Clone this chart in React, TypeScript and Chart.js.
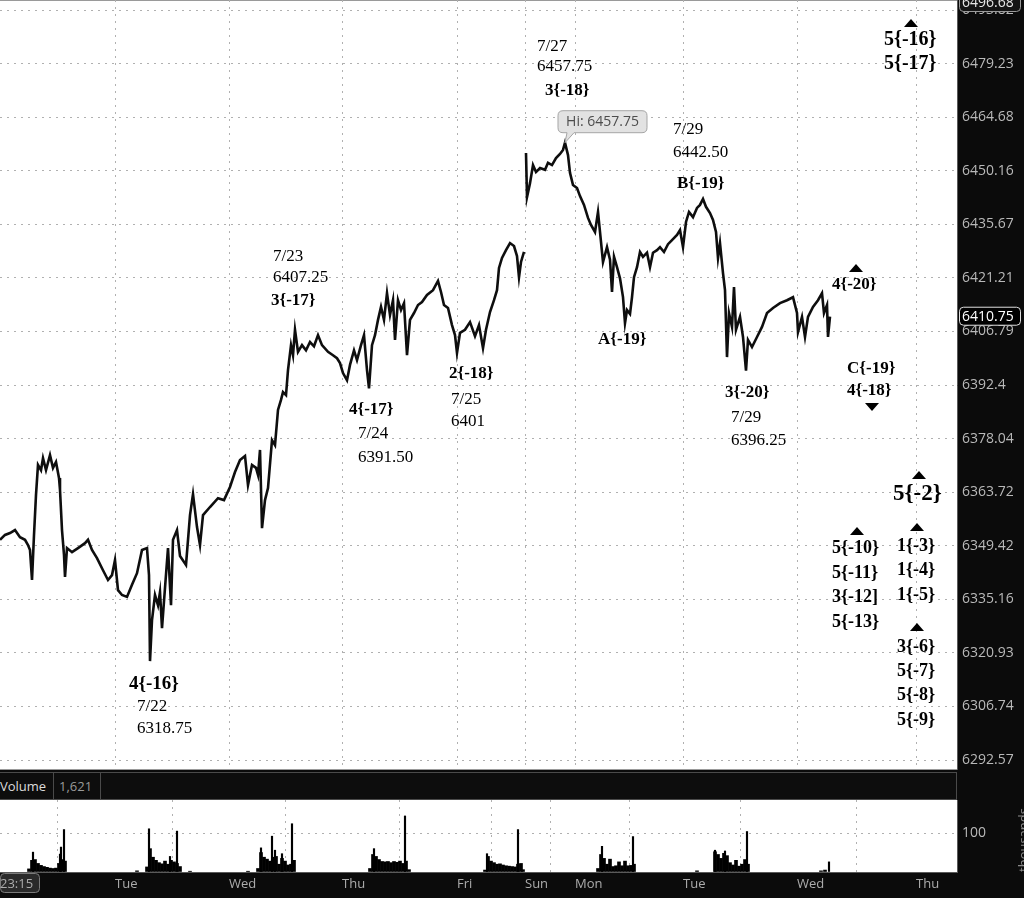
import React, { useEffect, useRef } from 'react';
import { Chart, registerables } from 'chart.js';

Chart.register(...registerables);

// ---------- DATA ----------
// x axis: bar index (intraday bars), day boundaries
const BAR_SPAN = 957;
const DAY_TICKS = [0, 115, 229, 342, 457, 525, 575, 683, 797, 916];
const DAY_LABELS = ['23:15', 'Tue', 'Wed', 'Thu', 'Fri', 'Sun', 'Mon', 'Tue', 'Wed', 'Thu'];

// price axis (log scale)
const PRICE_MIN = 6289.93;
const PRICE_MAX = 6496.55;
const PRICE_TICKS = [6292.57, 6306.74, 6320.93, 6335.16, 6349.42, 6363.72, 6378.04, 6392.4, 6406.79, 6421.21, 6435.67, 6450.16, 6464.68, 6479.23, 6493.82];
const PRICE_TICK_LABELS = ['6292.57', '6306.74', '6320.93', '6335.16', '6349.42', '6363.72', '6378.04', '6392.4', '6406.79', '6421.21', '6435.67', '6450.16', '6464.68', '6479.23', '6493.82'];

const PRICE_X = [
  0, 5, 10, 15, 20, 25, 28, 30, 32, 34, 36, 38, 41, 43, 46, 50, 53, 56, 59, 60, 62, 64, 65, 67, 72, 78, 85, 88, 92, 97,
  103, 108, 112, 115, 118, 122, 127, 132, 137, 142, 147, 149, 150, 152, 155, 158, 160, 162, 165, 168, 171, 173, 177, 180, 186, 190, 193, 197, 200, 203,
  210, 218, 224, 230, 235, 240, 245, 248, 252, 256, 258, 260, 262, 265, 268, 272, 275, 278, 281, 283, 286, 288, 291, 293, 295, 298, 302, 306, 310, 314,
  318, 322, 328, 333, 337, 340, 343, 347, 350, 354, 357, 361, 364, 367, 369, 372, 375, 378, 381, 384, 387, 390, 393, 395, 398, 401, 404, 407, 410, 414,
  418, 422, 427, 433, 438, 441, 444, 448, 452, 455, 457, 460, 465, 470, 475, 479, 483, 486, 490, 494, 497, 499, 502, 506, 510, 514, 517, 519, 521, 524,
  525,
  526, 527, 530, 533, 536, 540, 545, 548, 552, 556, 560, 563, 565, 568, 570, 573, 577, 580, 584, 588, 591, 595, 598, 600, 603, 607, 610, 612, 614, 617,
  620, 623, 625, 627, 630, 632, 634, 637, 640, 643, 647, 650, 653, 657, 660, 664, 668, 672, 677, 680, 683, 686, 689, 693, 697, 700, 703, 706, 710, 713,
  716, 718, 720, 723, 725, 727, 729, 732, 734, 736, 740, 743, 746, 748, 752, 757, 762, 767, 773, 780, 787, 793, 797, 798, 802, 805, 808, 813, 818, 822,
  824, 827, 828, 830
];
const PRICE_Y = [
  6351.0, 6352.3, 6352.8, 6353.6, 6351.7, 6351.0, 6349.6, 6348.3, 6340.3, 6352.3, 6363.0, 6371.0, 6369.6, 6372.8, 6369.6, 6373.6, 6370.2, 6371.8, 6367.5, 6364.3, 6353.6, 6347.0, 6341.1, 6348.8, 6347.7, 6348.8, 6350.1, 6351.0, 6348.3, 6346.1,
  6342.9, 6340.3, 6341.6, 6345.6, 6337.6, 6336.3, 6335.8, 6339.0, 6342.1, 6348.3, 6348.8, 6341.6, 6318.75, 6329.6, 6336.3, 6333.6, 6337.1, 6327.5, 6338.2, 6348.8, 6333.6, 6351.0, 6353.6, 6346.7, 6344.3, 6357.6, 6363.2, 6354.4, 6349.6, 6357.6,
  6359.75, 6362.1, 6361.6, 6365.1, 6369.1, 6372.3, 6373.4, 6365.6, 6371.0, 6370.2, 6368.3, 6375.0, 6354.1, 6361.6, 6364.8, 6377.65, 6376.3, 6385.7, 6388.4, 6390.5, 6389.7, 6396.4, 6403.1, 6400.4, 6407.25, 6401.3, 6403.1, 6401.7, 6403.95, 6402.8,
  6405.8, 6403.1, 6401.3, 6400.4, 6399.6, 6398.3, 6395.6, 6393.7, 6397.8, 6401.7, 6399.1, 6403.1, 6405.8, 6396.4, 6391.5, 6403.1, 6405.8, 6409.9, 6413.4, 6409.9, 6417.1, 6411.2, 6415.2, 6404.5, 6415.2, 6412.55, 6414.4, 6400.4, 6409.9, 6411.75,
  6413.9, 6414.7, 6416.6, 6417.9, 6420.4, 6417.4, 6413.9, 6413.1, 6408.5, 6405.8, 6401.0, 6406.4, 6407.25, 6409.3, 6405.5, 6408.5, 6402.3, 6407.25, 6412.0, 6415.2, 6417.9, 6423.9, 6426.6, 6428.7, 6430.6, 6429.8, 6427.1, 6421.4, 6425.5, 6428.2,
  null,
  6454.95, 6443.0, 6446.8, 6451.7, 6449.8, 6450.9, 6450.4, 6452.3, 6451.7, 6453.6, 6454.7, 6455.8, 6457.75, 6454.4, 6449.6, 6446.3, 6445.5, 6443.3, 6440.9, 6437.4, 6435.5, 6433.6, 6439.0, 6433.6, 6425.5, 6429.5, 6426.1, 6417.4, 6426.9, 6424.1,
  6421.1, 6416.05, 6409.05, 6412.55, 6411.5, 6416.0, 6421.4, 6424.1, 6428.2, 6426.9, 6428.0, 6424.1, 6428.0, 6428.7, 6429.5, 6428.2, 6430.3, 6431.4, 6432.8, 6434.1, 6429.5, 6436.3, 6439.0, 6437.6, 6440.1, 6440.9, 6442.5, 6440.4, 6438.7, 6436.85,
  6433.6, 6426.6, 6430.6, 6422.5, 6417.9, 6399.9, 6411.75, 6408.0, 6418.75, 6407.25, 6410.7, 6405.3, 6396.25, 6404.5, 6402.6, 6405.3, 6408.0, 6411.75, 6413.1, 6414.4, 6415.2, 6416.0, 6411.75, 6406.6, 6410.7, 6405.3, 6410.7, 6413.4, 6415.2, 6417.1,
  6411.75, 6413.9, 6405.3, 6410.75
];

// volume (thousands)
const VOL_MAX = 185;
const VOL_TICKS = [0, 100];
const VOL_X = [
  29, 32, 35, 38, 41, 44, 47, 50, 53, 56, 59, 62, 65,
  137, 147, 150, 153, 156, 159, 162, 165, 168, 171, 174, 177, 180, 190,
  248, 258, 261, 264, 267, 270, 273, 276, 279, 282, 285, 288, 291, 294,
  370, 373, 376, 379, 382, 385, 388, 391, 394, 397, 400, 403, 406, 409,
  485, 488, 491, 494, 497, 500, 503, 506, 509, 512, 515, 518, 521, 523,
  598, 601, 604, 607, 610, 613, 616, 619, 622, 625, 628, 631, 634,
  697, 715, 718, 721, 724, 727, 730, 733, 736, 739, 742, 745, 748,
  821, 825
];
const VOL_Y = [
  8, 30, 32, 22, 17, 14, 12, 10, 9, 10, 22, 32, 28,
  3, 13, 60, 38, 30, 24, 21, 28, 20, 30, 26, 22, 14, 2,
  2, 9, 50, 38, 33, 28, 38, 40, 20, 35, 28, 18, 20, 30,
  9, 45, 40, 32, 27, 26, 27, 24, 27, 25, 28, 22, 28, 6,
  5, 40, 28, 24, 20, 21, 18, 16, 15, 14, 13, 20, 22, 6,
  9, 45, 35, 20, 33, 14, 16, 26, 16, 28, 16, 17, 20,
  3, 52, 45, 35, 48, 42, 24, 18, 30, 15, 20, 32, 20,
  3, 5
];
const VOL_SPIKE_X = [33, 60, 61, 64, 149, 170, 177, 261, 272, 275, 282, 292, 374, 405, 487, 518, 602, 633, 715, 725, 747, 829];
const VOL_SPIKE_Y = [51, 46, 64, 109, 111, 40, 105, 62, 92, 56, 47, 124, 60, 144, 47, 109, 66, 91, 56, 54, 104, 26];
const VOLUME_READOUT = '1,621';

const LAST_PRICE = 6410.75;
const TOP_PRICE = 6496.68;
const HIGH_X = 565;
const HIGH_PRICE = 6457.75;

// wave-count annotations (bar index, price)
const ANNOTATIONS = [
  { t: '7/27', x: 537, y: 6484.0, b: false, s: 17 },
  { t: '6457.75', x: 537, y: 6478.3, b: false, s: 17 },
  { t: '3{-18}', x: 545, y: 6471.8, b: true, s: 17 },
  { t: '7/29', x: 673, y: 6461.2, b: false, s: 17 },
  { t: '6442.50', x: 673, y: 6455.2, b: false, s: 17 },
  { t: 'B{-19}', x: 677, y: 6446.6, b: true, s: 17 },
  { t: '7/23', x: 273, y: 6427.1, b: false, s: 17 },
  { t: '6407.25', x: 273, y: 6421.4, b: false, s: 17 },
  { t: '3{-17}', x: 271, y: 6415.2, b: true, s: 17 },
  { t: '4{-17}', x: 349, y: 6385.7, b: true, s: 17 },
  { t: '7/24', x: 358, y: 6379.3, b: false, s: 17 },
  { t: '6391.50', x: 358, y: 6373.1, b: false, s: 17 },
  { t: '2{-18}', x: 449, y: 6395.35, b: true, s: 17 },
  { t: '7/25', x: 451, y: 6388.4, b: false, s: 17 },
  { t: '6401', x: 451, y: 6382.7, b: false, s: 17 },
  { t: '4{-16}', x: 129, y: 6312.7, b: true, s: 19 },
  { t: '7/22', x: 137, y: 6306.6, b: false, s: 17 },
  { t: '6318.75', x: 137, y: 6301.0, b: false, s: 17 },
  { t: 'A{-19}', x: 598, y: 6404.5, b: true, s: 17 },
  { t: '3{-20}', x: 725, y: 6390.25, b: true, s: 17 },
  { t: '7/29', x: 731, y: 6383.55, b: false, s: 17 },
  { t: '6396.25', x: 731, y: 6377.65, b: false, s: 17 },
  { t: '4{-20}', x: 832, y: 6419.3, b: true, s: 17 },
  { t: 'C{-19}', x: 847, y: 6396.7, b: true, s: 17 },
  { t: '4{-18}', x: 847, y: 6390.8, b: true, s: 17 },
  { t: '5{-16}', x: 884, y: 6485.65, b: true, s: 20 },
  { t: '5{-17}', x: 884, y: 6479.1, b: true, s: 20 },
  { t: '5{-2}', x: 893, y: 6363.2, b: true, s: 23 },
  { t: '5{-10}', x: 832, y: 6348.8, b: true, s: 18 },
  { t: '5{-11}', x: 832, y: 6342.15, b: true, s: 18 },
  { t: '3{-12]', x: 832, y: 6335.75, b: true, s: 18 },
  { t: '5{-13}', x: 832, y: 6329.1, b: true, s: 18 },
  { t: '1{-3}', x: 897, y: 6349.35, b: true, s: 18 },
  { t: '1{-4}', x: 897, y: 6342.95, b: true, s: 18 },
  { t: '1{-5}', x: 897, y: 6336.3, b: true, s: 18 },
  { t: '3{-6}', x: 897, y: 6322.5, b: true, s: 18 },
  { t: '5{-7}', x: 897, y: 6316.1, b: true, s: 18 },
  { t: '5{-8}', x: 897, y: 6309.75, b: true, s: 18 },
  { t: '5{-9}', x: 897, y: 6303.15, b: true, s: 18 },
];
const MARKERS = [
  { x: 911, y: 6490.3, up: true },
  { x: 856, y: 6423.9, up: true },
  { x: 872, y: 6386.5, up: false },
  { x: 919, y: 6368.3, up: true },
  { x: 857, y: 6353.35, up: true },
  { x: 917, y: 6354.4, up: true },
  { x: 917, y: 6327.8, up: true },
];

// ---------- STYLE ----------
const GRID = '#b0b0b0';
const DASH = [2, 5];
const AXIS_TEXT = '#b9b9b9';
const SANS = '"Open Sans", "Noto Sans", sans-serif';
const SERIF = '"Liberation Serif", "Times New Roman", serif';

function rr(ctx: CanvasRenderingContext2D, x: number, y: number, w: number, h: number, r: number) {
  ctx.beginPath();
  ctx.moveTo(x + r, y);
  ctx.lineTo(x + w - r, y);
  ctx.quadraticCurveTo(x + w, y, x + w, y + r);
  ctx.lineTo(x + w, y + h - r);
  ctx.quadraticCurveTo(x + w, y + h, x + w - r, y + h);
  ctx.lineTo(x + r, y + h);
  ctx.quadraticCurveTo(x, y + h, x, y + h - r);
  ctx.lineTo(x, y + r);
  ctx.quadraticCurveTo(x, y, x + r, y);
  ctx.closePath();
}

const pricePlugin = {
  id: 'pricePlugin',
  beforeDraw(chart: any) {
    const { ctx, chartArea: a } = chart;
    ctx.save();
    ctx.fillStyle = '#ffffff';
    ctx.fillRect(a.left, a.top, a.right - a.left, a.bottom - a.top);
    ctx.fillStyle = '#9a9a9a';
    ctx.fillRect(a.left, a.top, a.right - a.left, 1);
    ctx.restore();
  },
  afterDatasetsDraw(chart: any) {
    const { ctx } = chart;
    const x = chart.scales.x;
    const y = chart.scales.y;
    ctx.save();
    ctx.fillStyle = '#000';
    ctx.textAlign = 'left';
    ctx.textBaseline = 'middle';
    for (const a of ANNOTATIONS) {
      ctx.font = `${a.b ? 'bold ' : ''}${a.s}px ${SERIF}`;
      ctx.fillText(a.t, x.getPixelForValue(a.x), y.getPixelForValue(a.y));
    }
    for (const m of MARKERS) {
      const px = x.getPixelForValue(m.x);
      const py = y.getPixelForValue(m.y);
      ctx.beginPath();
      if (m.up) {
        ctx.moveTo(px - 7, py + 4); ctx.lineTo(px + 7, py + 4); ctx.lineTo(px, py - 4);
      } else {
        ctx.moveTo(px - 7, py - 4); ctx.lineTo(px + 7, py - 4); ctx.lineTo(px, py + 4);
      }
      ctx.closePath();
      ctx.fill();
    }
    // high bubble
    const hx = x.getPixelForValue(HIGH_X);
    const hy = y.getPixelForValue(HIGH_PRICE);
    const L = hx - 7, R = hx + 82, T = hy - 32, B = hy - 10, r = 5;
    ctx.beginPath();
    ctx.moveTo(L + r, T);
    ctx.lineTo(R - r, T);
    ctx.quadraticCurveTo(R, T, R, T + r);
    ctx.lineTo(R, B - r);
    ctx.quadraticCurveTo(R, B, R - r, B);
    ctx.lineTo(hx + 9, B);
    ctx.lineTo(hx, hy);
    ctx.lineTo(hx + 2, B);
    ctx.lineTo(L + r, B);
    ctx.quadraticCurveTo(L, B, L, B - r);
    ctx.lineTo(L, T + r);
    ctx.quadraticCurveTo(L, T, L + r, T);
    ctx.closePath();
    ctx.fillStyle = '#e2e2e2';
    ctx.fill();
    ctx.strokeStyle = '#a5a5a5';
    ctx.lineWidth = 1;
    ctx.stroke();
    ctx.fillStyle = '#4d4d4d';
    ctx.font = `14px ${SANS}`;
    ctx.textAlign = 'center';
    ctx.fillText('Hi: ' + HIGH_PRICE.toFixed(2), hx + 37.5, hy - 21);
    ctx.restore();
  },
  afterDraw(chart: any) {
    const { ctx } = chart;
    const y = chart.scales.y;
    const left = chart.chartArea.right + 2;
    ctx.save();
    ctx.font = `14px ${SANS}`;
    ctx.textAlign = 'left';
    ctx.textBaseline = 'middle';
    // top price box
    const ty = Math.max(y.getPixelForValue(TOP_PRICE), 0) + 3;
    rr(ctx, left + 0.5, ty - 9.5, 61, 18, 4);
    ctx.fillStyle = '#141414';
    ctx.fill();
    ctx.strokeStyle = '#9a9a9a';
    ctx.stroke();
    ctx.fillStyle = '#e6e6e6';
    ctx.fillText(TOP_PRICE.toFixed(2), left + 3, ty);
    // last price box
    const ly = y.getPixelForValue(LAST_PRICE);
    rr(ctx, left + 0.5, ly - 9.5, 61, 18, 4);
    ctx.fillStyle = '#000';
    ctx.fill();
    ctx.strokeStyle = '#e0e0e0';
    ctx.stroke();
    ctx.fillStyle = '#ffffff';
    ctx.fillText(LAST_PRICE.toFixed(2), left + 3, ly);
    ctx.restore();
  },
};

const volPlugin = {
  id: 'volPlugin',
  beforeDraw(chart: any) {
    const { ctx, chartArea: a } = chart;
    ctx.save();
    ctx.fillStyle = '#ffffff';
    ctx.fillRect(a.left, a.top, a.right - a.left, a.bottom - a.top);
    rr(ctx, 0.5, a.bottom + 1.5, 39, 19, 4);
    ctx.fillStyle = '#2a2a2a';
    ctx.fill();
    ctx.strokeStyle = '#7a7a7a';
    ctx.lineWidth = 1;
    ctx.stroke();
    ctx.restore();
  },
  afterDraw(chart: any) {
    const { ctx, chartArea: a } = chart;
    ctx.save();
    ctx.translate(1028, (a.top + a.bottom) / 2 + 4);
    ctx.rotate(-Math.PI / 2);
    ctx.font = `13px ${SANS}`;
    ctx.fillStyle = '#8a8a8a';
    ctx.textAlign = 'center';
    ctx.textBaseline = 'alphabetic';
    ctx.fillText('thousands', 0, 0);
    ctx.restore();
  },
};

export default function App() {
  const priceRef = useRef<HTMLCanvasElement>(null);
  const volRef = useRef<HTMLCanvasElement>(null);

  useEffect(() => {
    const priceChart = new Chart(priceRef.current as HTMLCanvasElement, {
      type: 'line',
      data: {
        datasets: [
          {
            data: PRICE_X.map((x, i) => ({ x, y: PRICE_Y[i] })) as any,
            borderColor: '#0e0e0e',
            borderWidth: 2.6,
            borderJoinStyle: 'miter',
            pointRadius: 0,
            tension: 0,
            spanGaps: false,
          } as any,
        ],
      },
      options: {
        animation: false,
        responsive: false,
        maintainAspectRatio: false,
        devicePixelRatio: 1,
        events: [],
        layout: { padding: 0 },
        plugins: { legend: { display: false }, tooltip: { enabled: false } },
        scales: {
          x: {
            type: 'linear',
            min: 0,
            max: BAR_SPAN,
            bounds: 'data',
            afterBuildTicks: (s: any) => { s.ticks = DAY_TICKS.slice(1).map((v) => ({ value: v })); },
            ticks: { display: false },
            grid: { color: GRID, drawTicks: false, lineWidth: 1 },
            border: { display: false, dash: DASH },
            afterFit: (s: any) => { s.height = 0; s.paddingLeft = 0; s.paddingRight = 0; },
          },
          y: {
            type: 'logarithmic',
            position: 'right',
            min: PRICE_MIN,
            max: PRICE_MAX,
            bounds: 'data',
            afterBuildTicks: (s: any) => { s.ticks = PRICE_TICKS.map((v) => ({ value: v })); },
            ticks: {
              callback: (_v: any, i: number) => PRICE_TICK_LABELS[i],
              color: AXIS_TEXT,
              font: { family: SANS, size: 14 },
              padding: 5,
              autoSkip: false,
            },
            grid: { color: GRID, drawTicks: false, lineWidth: 1 },
            border: { display: true, color: '#5a5a5a', dash: DASH },
            afterFit: (s: any) => { s.width = 67; s.paddingTop = 0; s.paddingBottom = 0; },
          },
        } as any,
      },
      plugins: [pricePlugin],
    });

    const volChart = new Chart(volRef.current as HTMLCanvasElement, {
      type: 'bar',
      data: {
        datasets: [
          {
            data: VOL_X.map((x, i) => ({ x, y: VOL_Y[i] })) as any,
            backgroundColor: '#000',
            barThickness: 3,
            grouped: false,
          } as any,
          {
            data: VOL_SPIKE_X.map((x, i) => ({ x, y: VOL_SPIKE_Y[i] })) as any,
            backgroundColor: '#000',
            barThickness: 1.5,
            grouped: false,
          } as any,
        ],
      },
      options: {
        animation: false,
        responsive: false,
        maintainAspectRatio: false,
        devicePixelRatio: 1,
        events: [],
        layout: { padding: 0 },
        plugins: { legend: { display: false }, tooltip: { enabled: false } },
        scales: {
          x: {
            type: 'linear',
            min: 0,
            max: BAR_SPAN,
            bounds: 'data',
            offset: false,
            afterBuildTicks: (s: any) => { s.ticks = DAY_TICKS.map((v) => ({ value: v })); },
            ticks: {
              callback: (_v: any, i: number) => DAY_LABELS[i],
              color: '#acacac',
              font: { family: SANS, size: 13 },
              padding: 4,
              align: 'start',
              autoSkip: false,
              maxRotation: 0,
              minRotation: 0,
            },
            grid: {
              color: (c: any) => (c.tick && c.tick.value === 0 ? 'rgba(0,0,0,0)' : GRID),
              drawTicks: false,
              lineWidth: 1,
            },
            border: { display: true, color: '#5a5a5a', dash: DASH },
            afterFit: (s: any) => { s.height = 26; s.paddingLeft = 0; s.paddingRight = 0; },
          },
          y: {
            type: 'linear',
            position: 'right',
            min: 0,
            max: VOL_MAX,
            afterBuildTicks: (s: any) => { s.ticks = VOL_TICKS.map((v) => ({ value: v })); },
            ticks: {
              callback: (v: any) => (v === 0 ? '' : String(v)),
              color: AXIS_TEXT,
              font: { family: SANS, size: 14 },
              padding: 5,
            },
            grid: { color: GRID, drawTicks: false, lineWidth: 1 },
            border: { display: true, color: '#5a5a5a', dash: DASH },
            afterFit: (s: any) => { s.width = 67; s.paddingTop = 0; s.paddingBottom = 0; },
          },
        } as any,
      },
      plugins: [volPlugin],
    });

    return () => {
      priceChart.destroy();
      volChart.destroy();
    };
  }, []);

  const sep = '1px solid #4a4a4a';
  return (
    <div style={{ position: 'fixed', left: 0, top: 0, width: 1024, height: 898, background: '#0b0b0b', overflow: 'hidden' }}>
      <canvas ref={priceRef} width={1024} height={770} style={{ position: 'absolute', left: 0, top: 0, width: 1024, height: 770 }} />
      <div style={{ position: 'absolute', left: 0, top: 769, width: 957, height: 1, background: '#9a9a9a' }} />
      <div
        style={{
          position: 'absolute', left: 0, top: 772, width: 957, height: 28, boxSizing: 'border-box',
          border: sep, borderLeft: 'none', background: '#0d0d0d', display: 'flex', alignItems: 'stretch',
          font: `13px ${SANS}`,
        }}
      >
        <div style={{ display: 'flex', alignItems: 'center', width: 53, borderRight: sep, color: '#dcdcdc', overflow: 'hidden', whiteSpace: 'nowrap' }}>
          Volume
        </div>
        <div style={{ display: 'flex', alignItems: 'center', width: 47, paddingLeft: 5, boxSizing: 'border-box', borderRight: sep, color: '#9a9a9a' }}>
          {VOLUME_READOUT}
        </div>
      </div>
      <canvas ref={volRef} width={1024} height={98} style={{ position: 'absolute', left: 0, top: 800, width: 1024, height: 98 }} />
    </div>
  );
}
